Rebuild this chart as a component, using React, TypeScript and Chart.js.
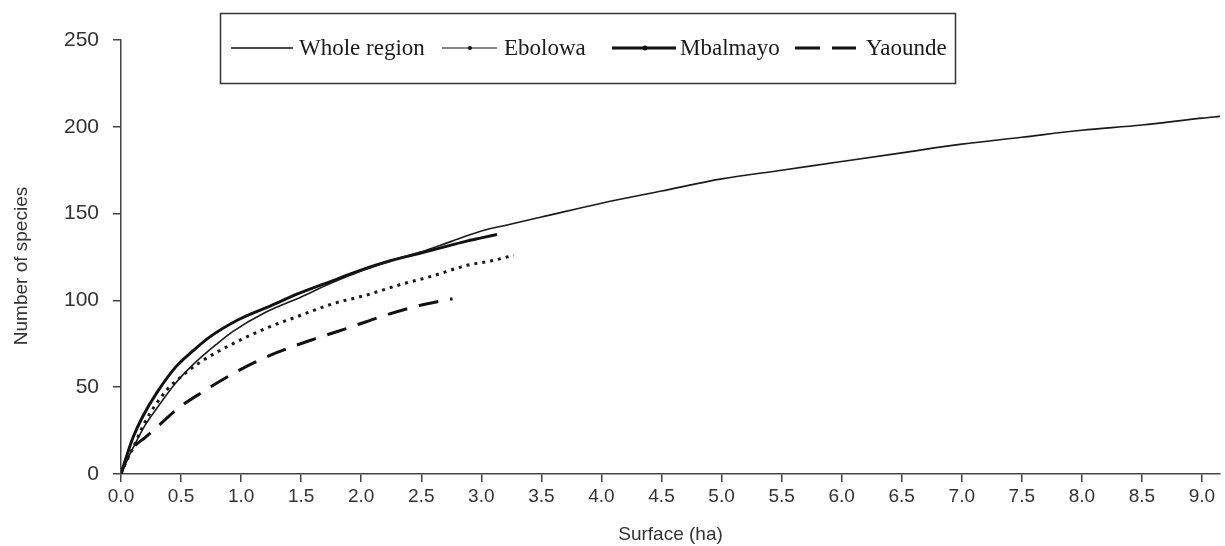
import React, { useEffect, useRef } from "react";
import { Chart, registerables } from "chart.js";

Chart.register(...registerables);

// ---- Data ----
const seriesNames = ["Whole region", "Ebolowa", "Mbalmayo", "Yaounde"];

const wholeX = [0, 0.05, 0.1, 0.2, 0.3, 0.45, 0.6, 0.8, 0.93, 1.2, 1.5, 1.75, 2.0, 2.25, 2.5, 2.75, 3.0, 3.25, 3.5, 4.0, 4.5, 5.0, 5.5, 6.0, 6.5, 7.0, 7.5, 8.0, 8.5, 9.0, 9.15];
const wholeY = [0, 8, 15, 28, 38, 52, 63, 75, 82, 93, 102, 110, 117, 123, 128, 134, 140, 144, 148, 156, 163, 170, 175, 180, 185, 190, 194, 198, 201, 205, 206];

const ebolowaX = [0, 0.05, 0.1, 0.2, 0.376, 0.5, 0.65, 0.93, 1.21, 1.48, 1.76, 2.04, 2.32, 2.59, 2.87, 3.1, 3.27];
const ebolowaY = [0, 8, 15, 30, 48, 56, 64, 75, 84, 91, 98, 103, 109, 114, 120, 123, 126];

const mbalmayoX = [0, 0.05, 0.1, 0.18, 0.3, 0.46, 0.6, 0.74, 0.98, 1.25, 1.48, 1.75, 1.98, 2.25, 2.48, 2.7, 2.87, 3.0, 3.13];
const mbalmayoY = [0, 11, 21, 33, 47, 62, 71, 79, 89, 97, 104, 111, 117, 123, 127, 131, 134, 136, 138];

const yaoundeX = [0, 0.05, 0.1, 0.2, 0.3, 0.46, 0.65, 0.99, 1.3, 1.62, 1.93, 2.18, 2.48, 2.76];
const yaoundeY = [0, 9, 15, 21, 27, 37, 46, 60, 70, 78, 85, 91, 97, 101];

const xTickValues = [0, 0.5, 1, 1.5, 2, 2.5, 3, 3.5, 4, 4.5, 5, 5.5, 6, 6.5, 7, 7.5, 8, 8.5, 9];

const xTitle = "Surface (ha)";
const yTitle = "Number of species";

const toPoints = (xs: number[], ys: number[]) => xs.map((x, i) => ({ x, y: ys[i] }));

const legendPlugin = {
  id: "boxLegend",
  afterDraw(chart: any) {
    const ctx = chart.ctx;
    ctx.save();
    // frame
    ctx.strokeStyle = "#333";
    ctx.lineWidth = 1.5;
    ctx.strokeRect(220.5, 13.5, 735, 70);
    const cy = 48;
    ctx.strokeStyle = "#111";
    ctx.fillStyle = "#111";
    // Whole region sample
    ctx.lineWidth = 1.5;
    ctx.beginPath(); ctx.moveTo(231, cy); ctx.lineTo(293, cy); ctx.stroke();
    // Ebolowa sample
    ctx.lineWidth = 1.2;
    ctx.beginPath(); ctx.moveTo(442, cy); ctx.lineTo(497, cy); ctx.stroke();
    ctx.beginPath(); ctx.arc(470, cy, 2, 0, Math.PI * 2); ctx.fill();
    // Mbalmayo sample
    ctx.lineWidth = 3;
    ctx.beginPath(); ctx.moveTo(612, cy); ctx.lineTo(676, cy); ctx.stroke();
    ctx.beginPath(); ctx.arc(645, cy, 2.5, 0, Math.PI * 2); ctx.fill();
    // Yaounde sample
    ctx.lineWidth = 3;
    ctx.beginPath(); ctx.moveTo(795, cy); ctx.lineTo(820, cy); ctx.stroke();
    ctx.beginPath(); ctx.moveTo(832, cy); ctx.lineTo(856, cy); ctx.stroke();
    // labels
    ctx.font = "23px 'Liberation Serif', 'Times New Roman', serif";
    ctx.textBaseline = "middle";
    ctx.textAlign = "left";
    ctx.fillStyle = "#1a1a1a";
    ctx.fillText(seriesNames[0], 299, cy + 1);
    ctx.fillText(seriesNames[1], 504, cy + 1);
    ctx.fillText(seriesNames[2], 680, cy + 1);
    ctx.fillText(seriesNames[3], 866, cy + 1);

    // y axis title
    ctx.save();
    ctx.translate(22, 266);
    ctx.rotate(-Math.PI / 2);
    ctx.font = "19px 'Liberation Sans', Arial, sans-serif";
    ctx.fillStyle = "#333";
    ctx.textAlign = "center";
    ctx.textBaseline = "middle";
    ctx.fillText(yTitle, 0, 0);
    ctx.restore();
    ctx.restore();
  },
};

export default function App() {
  const ref = useRef<HTMLCanvasElement | null>(null);
  useEffect(() => {
    if (!ref.current) return;
    const chart = new Chart(ref.current, {
      type: "line",
      data: {
        datasets: [
          {
            label: seriesNames[0],
            data: toPoints(wholeX, wholeY),
            borderColor: "#1a1a1a",
            borderWidth: 1.6,
            pointRadius: 0,
            cubicInterpolationMode: "monotone",
          },
          {
            label: seriesNames[1],
            data: toPoints(ebolowaX, ebolowaY),
            borderColor: "#1a1a1a",
            borderWidth: 3,
            borderDash: [3, 5],
            pointRadius: 0,
            cubicInterpolationMode: "monotone",
          },
          {
            label: seriesNames[2],
            data: toPoints(mbalmayoX, mbalmayoY),
            borderColor: "#111",
            borderWidth: 3,
            pointRadius: 0,
            cubicInterpolationMode: "monotone",
          },
          {
            label: seriesNames[3],
            data: toPoints(yaoundeX, yaoundeY),
            borderColor: "#111",
            borderWidth: 3,
            borderDash: [20, 12],
            pointRadius: 0,
            cubicInterpolationMode: "monotone",
          },
        ],
      } as any,
      options: {
        animation: false,
        responsive: true,
        maintainAspectRatio: false,
        layout: { padding: { top: 40, right: 5, left: 0, bottom: 0 } },
        plugins: { legend: { display: false }, tooltip: { enabled: false } },
        scales: {
          x: {
            type: "linear",
            min: 0,
            max: 9.15,
            afterBuildTicks: (scale: any) => {
              scale.ticks = xTickValues.map((v) => ({ value: v }));
            },
            afterFit: (scale: any) => {
              scale.height = 72;
            },
            ticks: {
              autoSkip: false,
              maxRotation: 0,
              padding: 3,
              color: "#333",
              font: { family: "'Liberation Sans', Arial, sans-serif", size: 19 },
              callback: (v: any) => Number(v).toFixed(1),
            },
            grid: { drawOnChartArea: false, drawTicks: true, tickLength: 8, color: "#444", lineWidth: 1.5 },
            border: { display: true, color: "#444", width: 1.5 },
            title: {
              display: true,
              text: xTitle,
              color: "#333",
              font: { family: "'Liberation Sans', Arial, sans-serif", size: 19 },
              padding: { top: 8, bottom: 0 },
            },
          },
          y: {
            type: "linear",
            min: 0,
            max: 250,
            afterFit: (scale: any) => {
              scale.width = 121;
            },
            ticks: {
              stepSize: 50,
              padding: 14,
              color: "#333",
              font: { family: "'Liberation Sans', Arial, sans-serif", size: 21 },
            },
            grid: { drawOnChartArea: false, drawTicks: true, tickLength: 8, color: "#444", lineWidth: 1.5 },
            border: { display: true, color: "#444", width: 1.5 },
            title: { display: false },
          },
        },
      } as any,
      plugins: [legendPlugin],
    });
    return () => chart.destroy();
  }, []);
  return (
    <div style={{ position: "absolute", left: 0, top: 0, width: 1225, height: 546, background: "#fff" }}>
      <canvas ref={ref} />
    </div>
  );
}
